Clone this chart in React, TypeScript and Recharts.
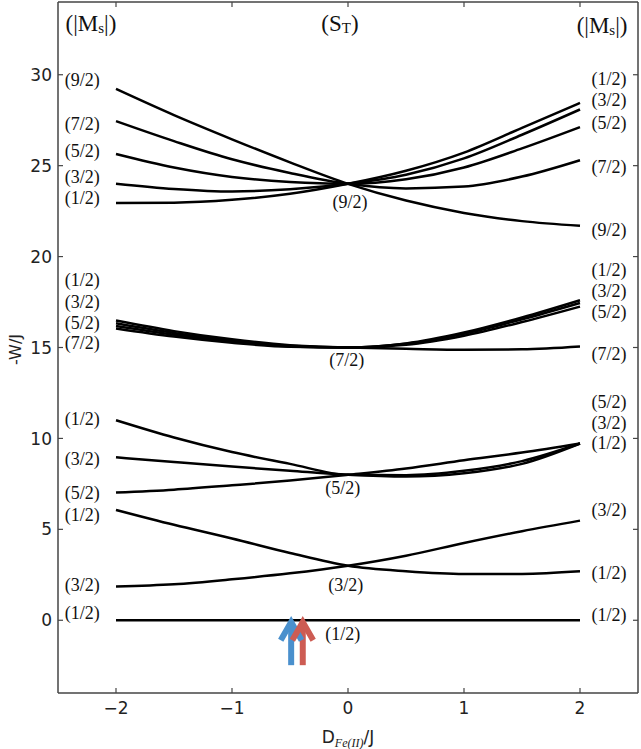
import React from 'react';
import { ComposedChart, Line, Scatter, XAxis, YAxis } from 'recharts';

// D_Fe(II)/J sample positions
const dValues = [-2, -1.5, -1, -0.5, 0, 0.5, 1, 1.5, 2];

// S_T = 9/2 multiplet (-W/J)
const s92_m92 = [29.22, 27.78, 26.45, 25.18, 24.0, 23.08, 22.4, 21.95, 21.69];
const s92_m72 = [27.45, 26.35, 25.35, 24.6, 24.0, 23.75, 23.85, 24.4, 25.3];
const s92_m52 = [25.64, 24.9, 24.38, 24.1, 24.0, 24.25, 24.9, 25.95, 27.12];
const s92_m32 = [24.01, 23.72, 23.58, 23.7, 24.0, 24.5, 25.4, 26.7, 28.09];
const s92_m12 = [22.94, 22.96, 23.12, 23.45, 24.0, 24.72, 25.72, 27.08, 28.45];

// S_T = 7/2 multiplet
const s72_m72 = [16.48, 15.9, 15.45, 15.13, 15.0, 14.93, 14.87, 14.9, 15.06];
const s72_m52 = [16.33, 15.8, 15.38, 15.09, 15.0, 15.15, 15.65, 16.4, 17.25];
const s72_m32 = [16.18, 15.7, 15.32, 15.06, 15.0, 15.2, 15.75, 16.55, 17.45];
const s72_m12 = [16.05, 15.6, 15.26, 15.04, 15.0, 15.22, 15.82, 16.65, 17.6];

// S_T = 5/2 multiplet
const s52_m52 = [7.02, 7.18, 7.42, 7.68, 8.0, 8.35, 8.8, 9.22, 9.72];
const s52_m32 = [8.96, 8.7, 8.45, 8.22, 8.0, 7.9, 8.08, 8.6, 9.72];
const s52_m12 = [11.0, 10.05, 9.25, 8.6, 8.0, 7.98, 8.22, 8.75, 9.72];

// S_T = 3/2 multiplet
const s32_m12 = [6.07, 5.25, 4.5, 3.7, 3.0, 2.7, 2.55, 2.55, 2.69];
const s32_m32 = [1.86, 1.98, 2.25, 2.58, 3.0, 3.55, 4.25, 4.9, 5.48];

// S_T = 1/2
const s12_m12 = [0, 0, 0, 0, 0, 0, 0, 0, 0];

const seriesList: [string, number[]][] = [
  ['s92_m92', s92_m92], ['s92_m72', s92_m72], ['s92_m52', s92_m52], ['s92_m32', s92_m32], ['s92_m12', s92_m12],
  ['s72_m72', s72_m72], ['s72_m52', s72_m52], ['s72_m32', s72_m32], ['s72_m12', s72_m12],
  ['s52_m52', s52_m52], ['s52_m32', s52_m32], ['s52_m12', s52_m12],
  ['s32_m12', s32_m12], ['s32_m32', s32_m32],
  ['s12_m12', s12_m12],
];

const xTicks = [-2, -1, 0, 1, 2];
const yTicks = [0, 5, 10, 15, 20, 25, 30];

// |Ms| labels at the left end (x = -2.29), right end (x = 2.25) and S_T labels at the centre
const leftLabels = [
  { y: 29.71, t: '(9/2)' }, { y: 27.29, t: '(7/2)' }, { y: 25.81, t: '(5/2)' }, { y: 24.38, t: '(3/2)' }, { y: 23.22, t: '(1/2)' },
  { y: 18.71, t: '(1/2)' }, { y: 17.5, t: '(3/2)' }, { y: 16.35, t: '(5/2)' }, { y: 15.25, t: '(7/2)' },
  { y: 11.07, t: '(1/2)' }, { y: 8.87, t: '(3/2)' }, { y: 7.0, t: '(5/2)' },
  { y: 5.79, t: '(1/2)' }, { y: 1.94, t: '(3/2)' }, { y: 0.4, t: '(1/2)' },
];
const rightLabels = [
  { y: 29.77, t: '(1/2)' }, { y: 28.61, t: '(3/2)' }, { y: 27.35, t: '(5/2)' }, { y: 24.93, t: '(7/2)' }, { y: 21.46, t: '(9/2)' },
  { y: 19.26, t: '(1/2)' }, { y: 18.11, t: '(3/2)' }, { y: 16.95, t: '(5/2)' }, { y: 14.64, t: '(7/2)' },
  { y: 12.0, t: '(5/2)' }, { y: 10.85, t: '(3/2)' }, { y: 9.75, t: '(1/2)' },
  { y: 6.06, t: '(3/2)' }, { y: 2.6, t: '(1/2)' }, { y: 0.29, t: '(1/2)' },
];
const centerLabels = [
  { x: 0.017, y: 23.0, t: '(9/2)' }, { x: -0.01, y: 14.31, t: '(7/2)' }, { x: -0.046, y: 7.27, t: '(5/2)' },
  { x: -0.02, y: 1.94, t: '(3/2)' }, { x: -0.046, y: -0.76, t: '(1/2)' },
];
const headerLabels = [
  { x: -2.216, y: 32.85, kind: 'absMs' }, { x: -0.069, y: 32.85, kind: 'st' }, { x: 2.19, y: 32.74, kind: 'absMs' },
];

// arrows marking D values
const arrows = [
  { x: -0.49, yFrom: -2.47, yTip: -0.1, color: '#4a90cd' },
  { x: -0.39, yFrom: -2.47, yTip: -0.1, color: '#cd5c53' },
];

const rows = dValues.map((d, i) => {
  const r: any = { x: d };
  seriesList.forEach(([k, arr]) => { r[k] = arr[i]; });
  return r;
});

const labelData = [
  ...leftLabels.map((l) => ({ x: -2.29, y: l.y, t: l.t, kind: 'ms' })),
  ...rightLabels.map((l) => ({ x: 2.25, y: l.y, t: l.t, kind: 'ms' })),
  ...centerLabels.map((l) => ({ x: l.x, y: l.y, t: l.t, kind: 'ms' })),
  ...headerLabels.map((l) => ({ x: l.x, y: l.y, t: '', kind: l.kind })),
];

const SERIF = "'Liberation Serif', 'Times New Roman', serif";
const SANS = "'DejaVu Sans', sans-serif";
const FRAME = '#454545';

const renderLabel = (props: any) => {
  const { cx, cy, payload } = props;
  if (cx == null || cy == null) return <g />;
  if (payload.kind === 'absMs') {
    return (
      <text x={cx} y={cy} textAnchor="middle" dominantBaseline="central" fontFamily={SERIF} fontSize={23} fill="#111">
        <tspan>(|M</tspan>
        <tspan fontSize={15} dy={5}>s</tspan>
        <tspan dy={-5}>|)</tspan>
      </text>
    );
  }
  if (payload.kind === 'st') {
    return (
      <text x={cx} y={cy} textAnchor="middle" dominantBaseline="central" fontFamily={SERIF} fontSize={23} fill="#111">
        <tspan>(S</tspan>
        <tspan fontSize={15} dy={5}>T</tspan>
        <tspan dy={-5}>)</tspan>
      </text>
    );
  }
  return (
    <text x={cx} y={cy} textAnchor="middle" dominantBaseline="central" fontFamily={SERIF} fontSize={18} fill="#111">
      {payload.t}
    </text>
  );
};

const BottomTick = (props: any) => {
  const { x, y, payload } = props;
  const v = payload.value;
  const s = v < 0 ? '\u2212' + Math.abs(v) : String(v);
  return (
    <g>
      <line x1={x} x2={x} y1={y} y2={y - 5} stroke={FRAME} strokeWidth={1.2} />
      <text x={x} y={y + 21} textAnchor="middle" fontFamily={SANS} fontSize={17} fill="#222">{s}</text>
    </g>
  );
};
const TopTick = (props: any) => {
  const { x, y } = props;
  return <line x1={x} x2={x} y1={y} y2={y + 5} stroke={FRAME} strokeWidth={1.2} />;
};
const LeftTick = (props: any) => {
  const { x, y, payload } = props;
  return (
    <g>
      <line x1={x} x2={x + 5} y1={y} y2={y} stroke={FRAME} strokeWidth={1.2} />
      <text x={x - 6} y={y} dy="0.36em" textAnchor="end" fontFamily={SANS} fontSize={17} fill="#222">{payload.value}</text>
    </g>
  );
};
const RightTick = (props: any) => {
  const { x, y } = props;
  return <line x1={x} x2={x - 5} y1={y} y2={y} stroke={FRAME} strokeWidth={1.2} />;
};

const HEAD_HALF_W = 0.09;
const HEAD_H = 1.0;

export default function App() {
  return (
    <div style={{ position: 'absolute', left: 0, top: 0, width: 641, height: 749, background: '#fff' }}>
      <ComposedChart width={641} height={749} data={rows} margin={{ top: 0, right: 0, bottom: 0, left: 0 }}>
        <XAxis xAxisId="b" dataKey="x" type="number" domain={[-2.5, 2.5]} ticks={xTicks} interval={0}
          allowDataOverflow orientation="bottom" height={56} tickSize={0} tickMargin={0} tickLine={false}
          axisLine={{ stroke: FRAME, strokeWidth: 1.5 }} tick={BottomTick} />
        <XAxis xAxisId="t" dataKey="x" type="number" domain={[-2.5, 2.5]} ticks={xTicks} interval={0}
          allowDataOverflow orientation="top" height={2} tickSize={0} tickMargin={0} tickLine={false}
          axisLine={{ stroke: FRAME, strokeWidth: 1.5 }} tick={TopTick} />
        <YAxis yAxisId="l" type="number" domain={[-4, 34]} ticks={yTicks} interval={0} allowDataOverflow
          orientation="left" width={58} tickSize={0} tickMargin={0} tickLine={false}
          axisLine={{ stroke: FRAME, strokeWidth: 1.5 }} tick={LeftTick} />
        <YAxis yAxisId="r" type="number" domain={[-4, 34]} ticks={yTicks} interval={0} allowDataOverflow
          orientation="right" width={3} tickSize={0} tickMargin={0} tickLine={false}
          axisLine={{ stroke: FRAME, strokeWidth: 1.5 }} tick={RightTick} />
        {seriesList.map(([k]) => (
          <Line key={k} xAxisId="b" yAxisId="l" type="monotone" dataKey={k} stroke="#000" strokeWidth={2.5}
            dot={false} activeDot={false} isAnimationActive={false} />
        ))}
        {arrows.map((a, i) => (
          <Line key={'shaft' + i} xAxisId="b" yAxisId="l" type="linear" dataKey="y"
            data={[{ x: a.x, y: a.yFrom }, { x: a.x, y: a.yTip - 0.15 }]}
            stroke={a.color} strokeWidth={6} dot={false} activeDot={false} isAnimationActive={false} />
        ))}
        {arrows.map((a, i) => (
          <Line key={'head' + i} xAxisId="b" yAxisId="l" type="linear" dataKey="y"
            data={[{ x: a.x - HEAD_HALF_W, y: a.yTip - HEAD_H }, { x: a.x, y: a.yTip }, { x: a.x + HEAD_HALF_W, y: a.yTip - HEAD_H }]}
            stroke={a.color} strokeWidth={6} strokeLinejoin="miter" dot={false} activeDot={false} isAnimationActive={false} />
        ))}
        <Scatter xAxisId="b" yAxisId="l" data={labelData} dataKey="y" shape={renderLabel} isAnimationActive={false} />
      </ComposedChart>
      <svg width={641} height={749} style={{ position: 'absolute', left: 0, top: 0, pointerEvents: 'none' }}>
        <text x={15.5} y={349.5} transform="rotate(-90 15.5 349.5)" textAnchor="middle" dominantBaseline="central"
          fontFamily={SANS} fontSize={16} fill="#222">-W/J</text>
        <text x={348} y={743} textAnchor="middle" fontFamily={SANS} fontSize={17} fill="#222">
          <tspan>D</tspan>
          <tspan fontFamily={SERIF} fontStyle="italic" fontSize={12} dy={4}>Fe(II)</tspan>
          <tspan dy={-4}>/J</tspan>
        </text>
      </svg>
    </div>
  );
}
